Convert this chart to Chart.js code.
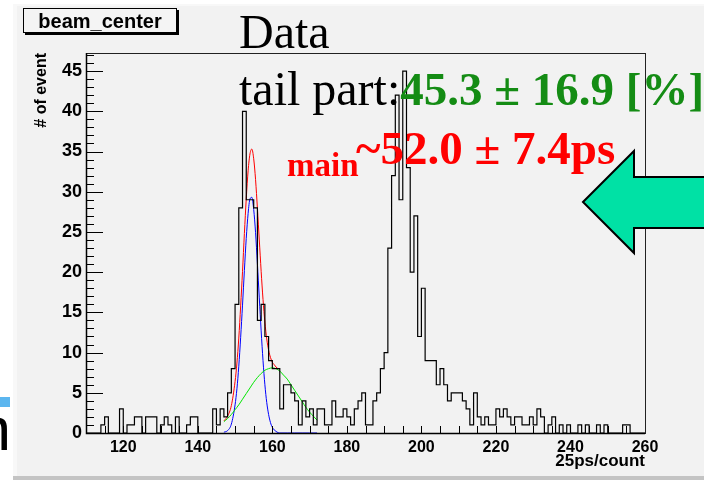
<!DOCTYPE html>
<html>
<head>
<meta charset="utf-8">
<script src="https://cdn.jsdelivr.net/npm/chart.js"></script>
<style>
  html, body { margin: 0; padding: 0; background: #ffffff; }
  canvas { display: block; }
</style>
</head>
<body>
<canvas id="beam-canvas" width="704" height="480"></canvas>
<script>
// histogram: one bin per unit (25ps/count), from 110 to 260
var binLow = 110;
var binHigh = 260;
var counts = [
  0, 0, 0, 0, 0, 1, 2, 0, 0, 0,      // 110-119
  3, 0, 1, 1, 2, 2, 0, 2, 2, 2,      // 120-129
  0, 1, 2, 1, 0, 2, 0, 0, 1, 2,      // 130-139
  2, 0, 0, 0, 0, 3, 1, 3, 2, 5,      // 140-149
  8, 16, 28, 40, 29, 29, 28, 14, 16, 12, // 150-159
  9, 8, 8, 3, 6, 6, 5, 4, 1, 4,      // 160-169
  2, 3, 1, 3, 3, 1, 1, 4, 2, 2,      // 170-179
  3, 2, 1, 3, 4, 5, 1, 1, 4, 5,      // 180-189
  8, 10, 23, 32, 42, 29, 45, 33, 20, 27, // 190-199
  12, 18, 9, 9, 9, 6, 8, 6, 4, 5,    // 200-209
  5, 5, 4, 3, 1, 5, 2, 1, 2, 1,      // 210-219
  1, 3, 2, 3, 2, 1, 2, 2, 1, 1,      // 220-229
  2, 1, 3, 2, 0, 1, 2, 0, 1, 0,      // 230-239
  1, 0, 0, 1, 0, 1, 0, 0, 1, 0,      // 240-249
  1, 0, 0, 0, 0, 1, 1, 0, 0, 0       // 250-259
];
var yMax = 47.25;
var xTickLabels = [120, 140, 160, 180, 200, 220, 240, 260];
var yTickLabels = [0, 5, 10, 15, 20, 25, 30, 35, 40, 45];

// fit curves
var totalX = [147, 148, 149, 150, 150.5, 151, 151.5, 152, 152.5, 153, 153.5, 154, 154.5, 155, 155.5, 156, 156.5, 157, 157.5, 158, 158.5, 159, 159.5, 160, 160.5, 161, 161.5];
var totalY = [1.5, 2.1, 3.4, 6.4, 8.7, 11.8, 15.8, 20.1, 24.8, 29.1, 32.6, 34.7, 35.3, 34.1, 31.5, 27.9, 24.0, 20.1, 16.6, 13.8, 11.7, 10.3, 9.4, 8.8, 8.5, 8.2, 8.0];
var mainX = [147, 148, 149, 150, 150.5, 151, 151.5, 152, 152.5, 153, 153.5, 154, 154.5, 155, 155.5, 156, 156.5, 157, 157.5, 158, 158.5, 159, 159.5, 160, 161, 162, 164, 166, 168, 170, 172];
var mainY = [0.1, 0.3, 1.1, 3.5, 5.5, 8.3, 11.9, 15.9, 20.2, 24.2, 27.3, 29.1, 29.3, 27.8, 24.9, 21.0, 16.8, 12.7, 9.0, 6.0, 3.8, 2.3, 1.3, 0.7, 0.2, 0, 0, 0, 0, 0, 0];
var tailX = [147, 148, 149, 150, 151, 152, 153, 154, 155, 156, 157, 158, 159, 160, 161, 162, 163, 164, 165, 166, 167, 168, 169, 170, 171, 172];
var tailY = [1.4, 1.8, 2.3, 2.9, 3.5, 4.2, 4.9, 5.6, 6.3, 6.9, 7.4, 7.8, 8.0, 8.1, 8.0, 7.7, 7.2, 6.7, 6.0, 5.3, 4.6, 3.9, 3.2, 2.6, 2.1, 1.6];

var sans = "'Liberation Sans', Arial, Helvetica, sans-serif";
var serif = "'Liberation Serif', 'Times New Roman', serif";

function pairs(xs, ys) {
  return xs.map(function (x, i) { return { x: x, y: ys[i] }; });
}

var histPoints = counts.map(function (c, i) { return { x: binLow + i, y: c }; });
histPoints.push({ x: binHigh, y: counts[counts.length - 1] });

// ROOT style canvas: pad, frame, inward ticks, labels on top
var rootLook = {
  id: 'rootLook',
  beforeDraw: function (chart) {
    var ctx = chart.ctx;
    ctx.save();
    ctx.fillStyle = '#ffffff';
    ctx.fillRect(0, 0, 704, 480);
    // bits of the slide behind the picture
    ctx.fillStyle = '#5cb6ef';
    ctx.fillRect(0, 397, 10, 10);
    ctx.fillStyle = '#000000';
    ctx.font = '62px ' + sans;
    ctx.textAlign = 'right';
    ctx.textBaseline = 'alphabetic';
    ctx.fillText('n', 11, 450);
    // pad
    ctx.fillStyle = '#f8f8f8';
    ctx.fillRect(13, 4, 691, 473);
    ctx.fillStyle = '#f2f2f2';
    ctx.fillRect(17, 6, 687, 470);
    ctx.fillStyle = '#c4c4c4';
    ctx.fillRect(13, 476, 691, 4);
    ctx.restore();
  },
  afterDatasetsDraw: function (chart) {
    var ctx = chart.ctx;
    var a = chart.chartArea;
    var xs = chart.scales.x, ys = chart.scales.y;
    ctx.save();
    ctx.strokeStyle = '#000000';
    ctx.lineWidth = 1;
    ctx.beginPath();
    var v, p, len;
    for (v = 0; v <= 47; v++) {
      p = Math.round(ys.getPixelForValue(v)) + 0.5;
      len = v % 5 === 0 ? 17 : 8;
      ctx.moveTo(a.left, p);
      ctx.lineTo(a.left + len, p);
    }
    for (v = binLow; v <= binHigh; v += 5) {
      p = Math.round(xs.getPixelForValue(v)) + 0.5;
      ctx.moveTo(p, a.bottom);
      ctx.lineTo(p, a.bottom - 7);
    }
    ctx.stroke();
    ctx.strokeStyle = '#222222';
    ctx.strokeRect(a.left + 0.5, a.top + 0.5, a.right - a.left, a.bottom - a.top);
    ctx.lineWidth = 1.5;
    ctx.strokeStyle = '#000000';
    ctx.beginPath();
    ctx.moveTo(a.left + 0.5, a.top);
    ctx.lineTo(a.left + 0.5, a.bottom + 0.5);
    ctx.lineTo(a.right, a.bottom + 0.5);
    ctx.stroke();
    ctx.restore();
  },
  afterDraw: function (chart) {
    var ctx = chart.ctx;
    ctx.save();
    // title box
    ctx.fillStyle = '#000000';
    ctx.fillRect(25, 10, 154, 25);
    ctx.fillStyle = '#f4f4f4';
    ctx.fillRect(23, 8, 154, 25);
    ctx.strokeStyle = '#000000';
    ctx.lineWidth = 1;
    ctx.strokeRect(23.5, 8.5, 153, 24);
    ctx.fillStyle = '#000000';
    ctx.font = 'bold 20px ' + sans;
    ctx.textAlign = 'center';
    ctx.textBaseline = 'alphabetic';
    ctx.fillText('beam_center', 100, 28);

    // annotations
    ctx.textAlign = 'left';
    ctx.font = '48px ' + serif;
    ctx.fillText('Data', 239, 48);
    ctx.fillText('tail part:', 239, 105);
    var w = ctx.measureText('tail part:').width;
    ctx.fillStyle = '#148c14';
    ctx.font = 'bold 47px ' + serif;
    ctx.fillText('45.3 \u00b1 16.9 [%]', 239 + w, 105);
    ctx.fillStyle = '#ff0000';
    ctx.font = 'bold 33px ' + serif;
    ctx.fillText('main', 287, 176);
    ctx.font = 'bold 47px ' + serif;
    ctx.fillText('~52.0 \u00b1 7.4ps', 356, 164);

    // arrow
    ctx.beginPath();
    ctx.moveTo(583, 202);
    ctx.lineTo(634, 151);
    ctx.lineTo(634, 177);
    ctx.lineTo(710, 177);
    ctx.lineTo(710, 228);
    ctx.lineTo(634, 228);
    ctx.lineTo(634, 253);
    ctx.closePath();
    ctx.fillStyle = '#00e1a5';
    ctx.fill();
    ctx.lineWidth = 2;
    ctx.strokeStyle = '#000000';
    ctx.stroke();
    ctx.restore();
  }
};

new Chart("beam-canvas", {
  type: "line",
  data: {
    datasets: [
      {
        label: 'beam_center',
        data: histPoints,
        stepped: 'after',
        borderColor: '#000000',
        borderWidth: 1.2,
        pointRadius: 0,
        fill: false
      },
      {
        label: 'tail',
        data: pairs(tailX, tailY),
        borderColor: '#00e600',
        borderWidth: 1,
        pointRadius: 0,
        cubicInterpolationMode: 'monotone'
      },
      {
        label: 'main',
        data: pairs(mainX, mainY),
        borderColor: '#0000ff',
        borderWidth: 1,
        pointRadius: 0,
        cubicInterpolationMode: 'monotone'
      },
      {
        label: 'total',
        data: pairs(totalX, totalY),
        borderColor: '#ff0000',
        borderWidth: 1,
        pointRadius: 0,
        cubicInterpolationMode: 'monotone'
      }
    ]
  },
  options: {
    responsive: false,
    animation: false,
    events: [],
    devicePixelRatio: 1,
    layout: { padding: { left: 0, top: 53, right: 59, bottom: 0 } },
    plugins: {
      legend: { display: false },
      title: { display: false },
      tooltip: { enabled: false }
    },
    scales: {
      x: {
        type: 'linear',
        min: binLow,
        max: binHigh,
        afterFit: function (scale) { scale.height = 47; },
        afterBuildTicks: function (scale) {
          scale.ticks = xTickLabels.map(function (v) { return { value: v }; });
        },
        grid: { display: false, drawTicks: false },
        border: { display: false },
        ticks: {
          autoSkip: false,
          maxRotation: 0,
          padding: 5,
          color: '#000000',
          font: { family: sans, size: 16, weight: 'bold' }
        },
        title: {
          display: true,
          text: '25ps/count',
          align: 'end',
          color: '#000000',
          font: { family: sans, size: 17, weight: 'bold' },
          padding: { top: 0, bottom: 8 }
        }
      },
      y: {
        type: 'linear',
        min: 0,
        max: yMax,
        afterFit: function (scale) { scale.width = 86; },
        afterBuildTicks: function (scale) {
          scale.ticks = yTickLabels.map(function (v) { return { value: v }; });
        },
        grid: { display: false, drawTicks: false },
        border: { display: false },
        ticks: {
          autoSkip: false,
          padding: 4,
          color: '#000000',
          font: { family: sans, size: 18, weight: 'bold' }
        },
        title: {
          display: true,
          text: '# of event',
          align: 'end',
          color: '#000000',
          font: { family: sans, size: 16, weight: 'bold' },
          padding: { top: 32, bottom: 0 }
        }
      }
    }
  },
  plugins: [rootLook]
});
</script>
</body>
</html>
